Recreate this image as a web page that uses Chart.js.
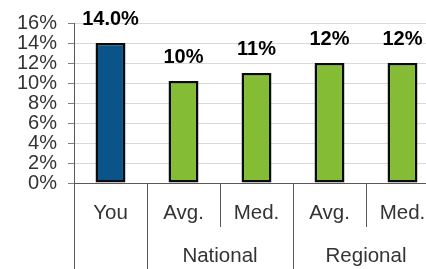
<!DOCTYPE html>
<html>
<head>
<meta charset="utf-8">
<script src="https://cdn.jsdelivr.net/npm/chart.js@4/dist/chart.umd.min.js"></script>
<style>
html,body{margin:0;padding:0;background:#fff;overflow:hidden;width:426px;height:269px;}
#wrap{position:absolute;left:0;top:0;width:440px;height:269px;}
canvas{display:block;}
</style>
</head>
<body>
<div id="wrap"><canvas id="c" width="440" height="269"></canvas></div>
<script>
const categories = ["You", "Avg.", "Med.", "Avg.", "Med."];
const groups = ["", "National", "National", "Regional", "Regional"];
const values = [14.0, 10.2, 11.0, 12.0, 12.0];
const valueLabels = ["14.0%", "10%", "11%", "12%", "12%"];
const barColors = ["#0A5489", "#84BC36", "#84BC36", "#84BC36", "#84BC36"];
const yTicks = [0, 2, 4, 6, 8, 10, 12, 14, 16];

const FONT = "'Liberation Sans', Arial, sans-serif";

const valueLabelPlugin = {
  id: 'valueLabels',
  afterDatasetsDraw(chart) {
    const ctx = chart.ctx;
    const meta = chart.getDatasetMeta(0);
    ctx.save();
    ctx.font = "bold 20px " + FONT;
    ctx.fillStyle = "#000";
    ctx.textAlign = "center";
    ctx.textBaseline = "middle";
    meta.data.forEach((bar, i) => {
      ctx.fillText(valueLabels[i], bar.x, bar.y - 24);
    });
    ctx.restore();
  }
};

const multiAxisPlugin = {
  id: 'multiAxis',
  afterDraw(chart) {
    const ctx = chart.ctx;
    const xs = chart.scales.x;
    const area = chart.chartArea;
    const n = categories.length;
    const step = (xs.getPixelForValue(1) - xs.getPixelForValue(0));
    const bottom = chart.height;
    const row1Bottom = area.bottom + 44;
    ctx.save();
    ctx.strokeStyle = "#595959";
    ctx.lineWidth = 1;
    for (let i = 0; i <= n; i++) {
      const x = Math.round(xs.getPixelForValue(i) - step / 2) + 0.5;
      let full = true;
      if (i > 0 && i < n && groups[i] !== "" && groups[i] === groups[i - 1]) full = false;
      ctx.beginPath();
      ctx.moveTo(x, area.bottom);
      ctx.lineTo(x, full ? bottom : row1Bottom);
      ctx.stroke();
    }
    ctx.font = "20.5px " + FONT;
    ctx.fillStyle = "#333";
    ctx.textAlign = "center";
    ctx.textBaseline = "middle";
    for (let i = 0; i < n; i++) {
      ctx.fillText(categories[i], xs.getPixelForValue(i), area.bottom + 30);
    }
    let i = 0;
    while (i < n) {
      let j = i;
      while (j + 1 < n && groups[j + 1] === groups[i]) j++;
      if (groups[i] !== "") {
        const cx = (xs.getPixelForValue(i) + xs.getPixelForValue(j)) / 2;
        ctx.fillText(groups[i], cx, area.bottom + 73);
      }
      i = j + 1;
    }
    ctx.restore();
  }
};

new Chart(document.getElementById('c'), {
  type: 'bar',
  data: {
    labels: categories,
    datasets: [{
      data: values,
      backgroundColor: barColors,
      borderColor: "#0a0a0a",
      borderWidth: 2.5,
      borderSkipped: false,
      barPercentage: 0.41,
      categoryPercentage: 1.0
    }]
  },
  options: {
    responsive: false,
    animation: false,
    devicePixelRatio: 1,
    layout: { padding: { top: 15, right: 1, left: 0, bottom: 0 } },
    plugins: { legend: { display: false }, tooltip: { enabled: false } },
    scales: {
      x: {
        ticks: { display: false },
        grid: { display: false },
        border: { display: true, color: "#595959", width: 1 },
        afterFit(scale) { scale.height = 86; }
      },
      y: {
        min: 0,
        max: 16,
        afterBuildTicks(scale) { scale.ticks = yTicks.map(v => ({ value: v })); },
        ticks: {
          autoSkip: false,
          callback: v => v + "%",
          font: { family: FONT, size: 20 },
          color: "#333",
          padding: 11
        },
        grid: { color: "#d9d9d9", tickColor: "#808080", tickLength: 6, drawTicks: true },
        border: { display: true, color: "#595959", width: 1 },
        afterFit(scale) { scale.width = 74; }
      }
    }
  },
  plugins: [valueLabelPlugin, multiAxisPlugin]
});
</script>
</body>
</html>
